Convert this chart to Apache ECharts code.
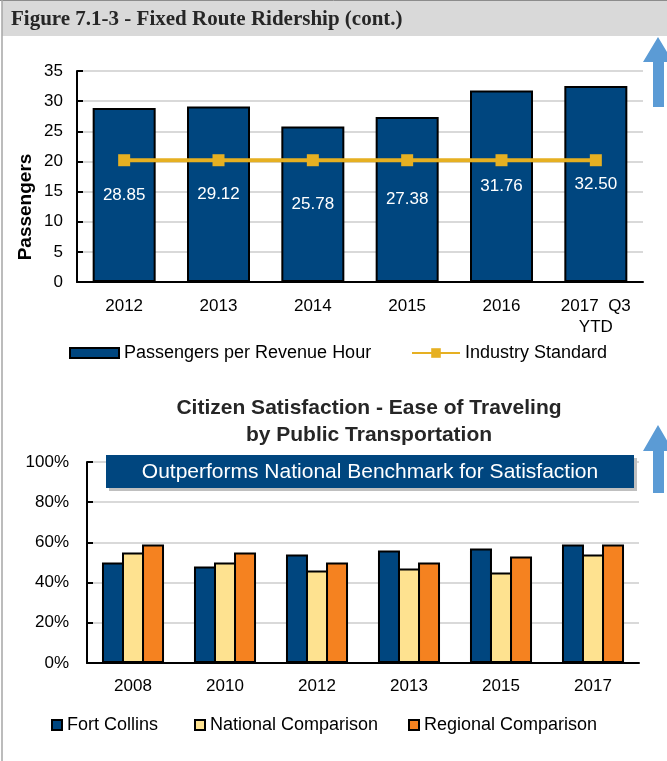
<!DOCTYPE html>
<html>
<head>
<meta charset="utf-8">
<script src="https://cdn.jsdelivr.net/npm/echarts@6/dist/echarts.min.js"></script>
<style>
  html, body { margin: 0; padding: 0; background: #fff; }
  #main { width: 667px; height: 761px; }
</style>
</head>
<body>
<div id="main"></div>
<script>
// top chart data
var rideYears = ['2012', '2013', '2014', '2015', '2016', '2017  Q3\nYTD'];
var passengersPerHour = [28.85, 29.12, 25.78, 27.38, 31.76, 32.50];
var industryStandard = [20.2, 20.2, 20.2, 20.2, 20.2, 20.2];

// bottom chart data
var surveyYears = ['2008', '2010', '2012', '2013', '2015', '2017'];
var fortCollins = [50, 48, 54, 56, 57, 59];
var nationalComparison = [55, 50, 46, 47, 45, 54];
var regionalComparison = [59, 55, 50, 50, 53, 59];

var FONT = '"Liberation Sans", Arial, sans-serif';
var navy = '#00467f';

var chart = echarts.init(document.getElementById('main'));

var axisLabelStyle = { color: '#000', fontSize: 17, fontFamily: FONT };
var legendText = { color: '#000', fontSize: 18, fontFamily: FONT };

var option = {
    animation: false,
    textStyle: { fontFamily: FONT },
    grid: [
        { left: 77, top: 71, width: 566, height: 211 },
        { left: 87, top: 462, width: 552, height: 201 }
    ],
    xAxis: [
        {
            type: 'category', gridIndex: 0, data: rideYears,
            axisLine: { lineStyle: { color: '#000', width: 2 } },
            axisTick: { inside: true, length: 4, lineStyle: { color: '#000', width: 2 } },
            axisLabel: Object.assign({ margin: 14, lineHeight: 21, interval: 0 }, axisLabelStyle)
        },
        {
            type: 'category', gridIndex: 1, data: surveyYears,
            axisLine: { lineStyle: { color: '#000', width: 2 } },
            axisTick: { inside: true, length: 4, lineStyle: { color: '#000', width: 2 } },
            axisLabel: Object.assign({ margin: 15, interval: 0 }, axisLabelStyle)
        }
    ],
    yAxis: [
        {
            type: 'value', gridIndex: 0, min: 0, max: 35, interval: 5,
            axisLine: { show: true, lineStyle: { color: '#000', width: 2 } },
            axisTick: { show: true, inside: true, length: 6, lineStyle: { color: '#000', width: 2 } },
            splitLine: { lineStyle: { color: '#d9d9d9', width: 2 } },
            axisLabel: Object.assign({ margin: 14 }, axisLabelStyle)
        },
        {
            type: 'value', gridIndex: 1, min: 0, max: 100, interval: 20,
            axisLine: { show: true, lineStyle: { color: '#000', width: 2 } },
            axisTick: { show: true, inside: true, length: 6, lineStyle: { color: '#000', width: 2 } },
            splitLine: { lineStyle: { color: '#d9d9d9', width: 2 } },
            axisLabel: Object.assign({ margin: 18, formatter: '{value}%' }, axisLabelStyle)
        }
    ],
    legend: [
        {
            data: ['Passengers per Revenue Hour'], left: 69, top: 344, padding: 0,
            icon: 'rect', itemWidth: 49, itemHeight: 10, textStyle: legendText
        },
        {
            data: ['Industry Standard'], left: 411, top: 344, padding: 0,
            itemWidth: 48, itemHeight: 12, textStyle: legendText
        },
        {
            data: ['Fort Collins'], left: 51, top: 716, padding: 0,
            icon: 'rect', itemWidth: 10, itemHeight: 10, textStyle: legendText
        },
        {
            data: ['National Comparison'], left: 194, top: 716, padding: 0,
            icon: 'rect', itemWidth: 10, itemHeight: 10, textStyle: legendText
        },
        {
            data: ['Regional Comparison'], left: 408, top: 716, padding: 0,
            icon: 'rect', itemWidth: 10, itemHeight: 10, textStyle: legendText
        }
    ],
    series: [
        {
            name: 'Passengers per Revenue Hour', type: 'bar',
            xAxisIndex: 0, yAxisIndex: 0, barWidth: 63,
            data: passengersPerHour,
            itemStyle: { color: navy, borderColor: '#000', borderWidth: 2 },
            label: {
                show: true, position: 'inside', color: '#fff', fontSize: 17, fontFamily: FONT,
                formatter: function (p) { return p.value.toFixed(2); }
            }
        },
        {
            name: 'Industry Standard', type: 'line',
            xAxisIndex: 0, yAxisIndex: 0, z: 5,
            data: industryStandard,
            symbol: 'rect', symbolSize: 12,
            itemStyle: { color: '#e6b022' },
            lineStyle: { color: '#e6b022', width: 4 }
        },
        {
            name: 'Fort Collins', type: 'bar', xAxisIndex: 1, yAxisIndex: 1,
            barWidth: 22, barGap: '-9%', data: fortCollins,
            itemStyle: { color: navy, borderColor: '#000', borderWidth: 2 }
        },
        {
            name: 'National Comparison', type: 'bar', xAxisIndex: 1, yAxisIndex: 1,
            barWidth: 22, barGap: '-9%', data: nationalComparison,
            itemStyle: { color: '#fee290', borderColor: '#000', borderWidth: 2 }
        },
        {
            name: 'Regional Comparison', type: 'bar', xAxisIndex: 1, yAxisIndex: 1,
            barWidth: 22, barGap: '-9%', data: regionalComparison,
            itemStyle: { color: '#f58220', borderColor: '#000', borderWidth: 2 }
        }
    ],
    graphic: [
        // header band + frame
        { type: 'rect', shape: { x: 2, y: 0, width: 667, height: 36 }, style: { fill: '#d9d9d9' }, silent: true },
        { type: 'line', shape: { x1: 0, y1: 0.5, x2: 667, y2: 0.5 }, style: { stroke: '#8c8c8c', lineWidth: 1 } },
        { type: 'line', shape: { x1: 2, y1: 0, x2: 2, y2: 761 }, style: { stroke: '#a6a6a6', lineWidth: 1.5 } },
        {
            type: 'text', x: 11, y: 20,
            style: { text: 'Figure 7.1-3 - Fixed Route Ridership (cont.)', fill: '#262626',
                     font: 'bold 21px "Liberation Serif", "Times New Roman", serif', verticalAlign: 'middle' }
        },
        // arrows
        {
            type: 'polygon', z: 10,
            shape: { points: [[643, 62], [658, 37], [673, 62], [664, 62], [664, 107], [653, 107], [653, 62]] },
            style: { fill: '#5b9bd5' }
        },
        {
            type: 'polygon', z: 10,
            shape: { points: [[643, 451], [658, 425], [673, 451], [664, 451], [664, 493], [653, 493], [653, 451]] },
            style: { fill: '#5b9bd5' }
        },
        // y axis name (top chart)
        {
            type: 'text', x: 26, y: 207, rotation: Math.PI / 2,
            style: { text: 'Passengers', fill: '#000', font: 'bold 19px ' + FONT, align: 'center', verticalAlign: 'middle' }
        },
        // bottom title
        {
            type: 'text', x: 369, y: 422,
            style: { text: 'Citizen Satisfaction - Ease of Traveling\nby Public Transportation', fill: '#262626',
                     font: 'bold 21px ' + FONT, align: 'center', verticalAlign: 'middle', lineHeight: 27 }
        },
        // benchmark banner
        { type: 'rect', z: 10, shape: { x: 109, y: 458, width: 528, height: 33 }, style: { fill: '#bfbfbf' } },
        { type: 'rect', z: 11, shape: { x: 106, y: 455, width: 528, height: 33 }, style: { fill: navy } },
        {
            type: 'text', z: 12, x: 370, y: 472,
            style: { text: 'Outperforms National Benchmark for Satisfaction', fill: '#fff',
                     font: '21px ' + FONT, align: 'center', verticalAlign: 'middle' }
        }
    ]
};

chart.setOption(option);
</script>
</body>
</html>
